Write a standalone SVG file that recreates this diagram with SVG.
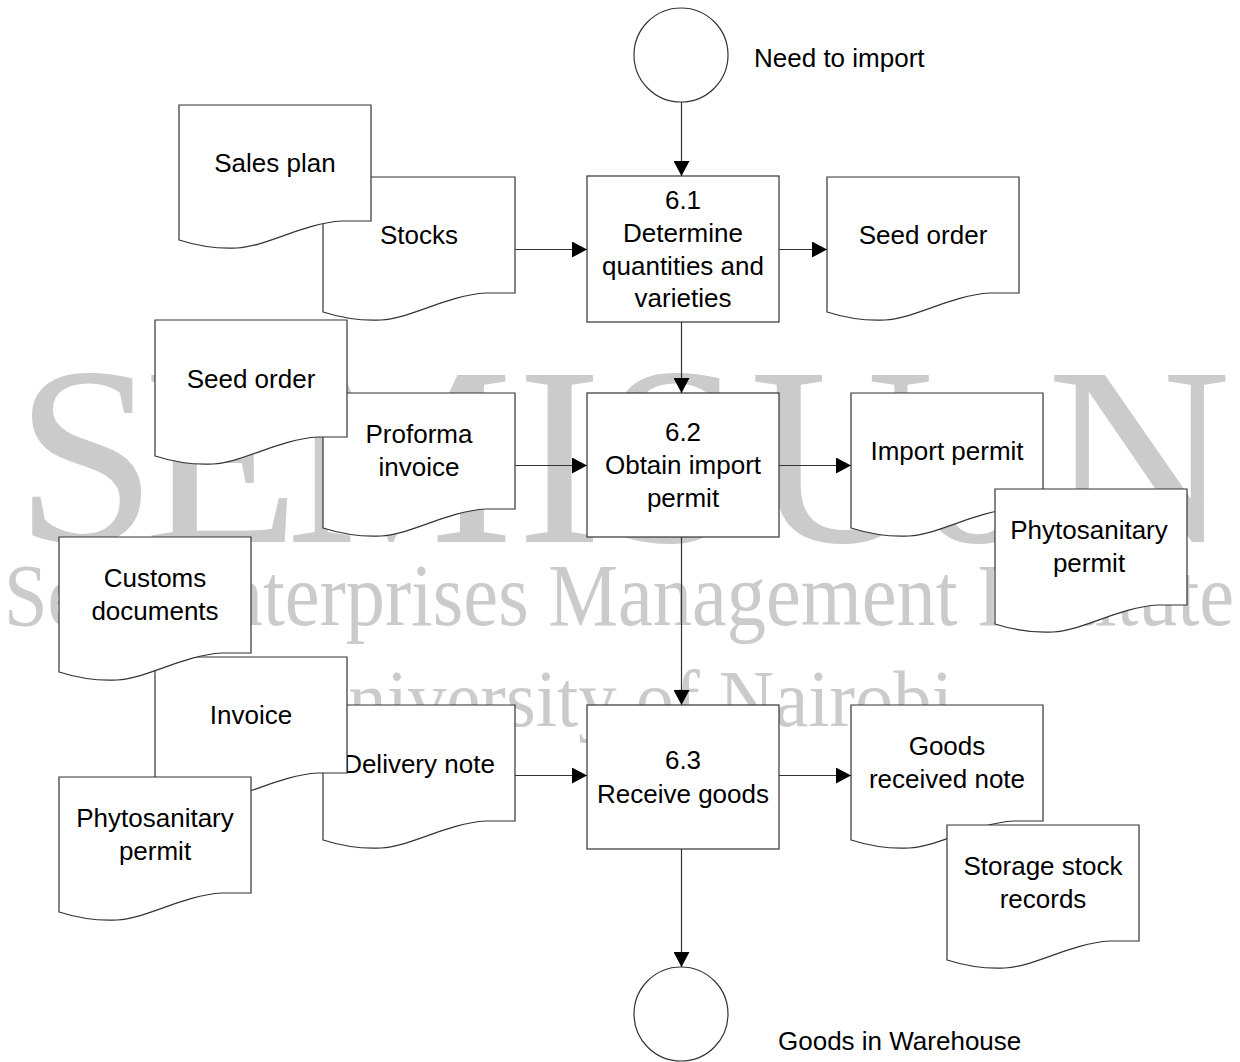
<svg xmlns="http://www.w3.org/2000/svg" width="1240" height="1062" viewBox="0 0 1240 1062">
<style>
.wm{font-family:"Liberation Serif","Times New Roman",serif;fill:#cbcbcb}
.doc,.box,.term{fill:#fff;stroke:#333;stroke-width:1.2}
.t{font-family:"Liberation Sans",Arial,sans-serif;font-size:26px;fill:#000;text-anchor:middle}
.lbl{font-family:"Liberation Sans",Arial,sans-serif;font-size:26px;fill:#000}
.c{fill:none;stroke:#333;stroke-width:1.2}
</style>
<defs>
<marker id="ah" markerUnits="userSpaceOnUse" markerWidth="16" markerHeight="16" refX="15" refY="8" orient="auto">
<path d="M0,0 L15,8 L0,16 Z" fill="#000"/>
</marker>
</defs>
<rect width="1240" height="1062" fill="#fff"/>
<g id="watermark">
<text class="wm" font-size="255" x="15 144 286 517 602 744 750 915 1047" y="542">SEMIS UoN</text>
<text class="wm" font-size="88" x="4" y="625" textLength="1230" lengthAdjust="spacingAndGlyphs">Seed Enterprises Management Institute</text>
<text class="wm" font-size="80" x="293" y="726" textLength="660" lengthAdjust="spacingAndGlyphs">University of Nairobi</text>
</g>
<g id="stocks"><path class="doc" d="M323,312 V177 H515 V293 H486 C448,295 409,319 381,320 C361,321 342,318 323,312 Z"/><text class="t" x="419" y="244">Stocks</text></g>
<g id="sales-plan"><path class="doc" d="M179,240 V105 H371 V221 H342 C304,223 265,247 237,248 C217,249 198,246 179,240 Z"/><text class="t" x="275" y="172">Sales plan</text></g>
<g id="seed-order-out"><path class="doc" d="M827,312 V177 H1019 V293 H990 C952,295 913,319 885,320 C865,321 846,318 827,312 Z"/><text class="t" x="923" y="244">Seed order</text></g>
<g id="proforma"><path class="doc" d="M323,528 V393 H515 V509 H486 C448,511 409,535 381,536 C361,537 342,534 323,528 Z"/><text class="t" x="419" y="443">Proforma</text><text class="t" x="419" y="476">invoice</text></g>
<g id="seed-order-in"><path class="doc" d="M155,456 V320 H347 V437 H318 C280,439 241,463 213,464 C193,465 174,462 155,456 Z"/><text class="t" x="251" y="388">Seed order</text></g>
<g id="import-permit"><path class="doc" d="M851,528 V393 H1043 V509 H1014 C976,511 937,535 909,536 C889,537 870,534 851,528 Z"/><text class="t" x="947" y="460">Import permit</text></g>
<g id="phyto-out"><path class="doc" d="M995,624 V489 H1187 V605 H1158 C1120,607 1081,631 1053,632 C1033,633 1014,630 995,624 Z"/><text class="t" x="1089" y="539">Phytosanitary</text><text class="t" x="1089" y="572">permit</text></g>
<g id="delivery-note"><path class="doc" d="M323,840 V705 H515 V821 H486 C448,823 409,847 381,848 C361,849 342,846 323,840 Z"/><text class="t" x="419" y="773">Delivery note</text></g>
<g id="invoice"><path class="doc" d="M155,792 V657 H347 V773 H318 C280,775 241,799 213,800 C193,801 174,798 155,792 Z"/><text class="t" x="251" y="724">Invoice</text></g>
<g id="customs"><path class="doc" d="M59,672 V537 H251 V653 H222 C184,655 145,679 117,680 C97,681 78,678 59,672 Z"/><text class="t" x="155" y="587">Customs</text><text class="t" x="155" y="620">documents</text></g>
<g id="phyto-in"><path class="doc" d="M59,912 V777 H251 V893 H222 C184,895 145,919 117,920 C97,921 78,918 59,912 Z"/><text class="t" x="155" y="827">Phytosanitary</text><text class="t" x="155" y="860">permit</text></g>
<g id="grn"><path class="doc" d="M851,840 V705 H1043 V821 H1014 C976,823 937,847 909,848 C889,849 870,846 851,840 Z"/><text class="t" x="947" y="755">Goods</text><text class="t" x="947" y="788">received note</text></g>
<g id="storage"><path class="doc" d="M947,960 V825 H1139 V941 H1110 C1072,943 1033,967 1005,968 C985,969 966,966 947,960 Z"/><text class="t" x="1043" y="875">Storage stock</text><text class="t" x="1043" y="908">records</text></g>
<g id="p61"><rect class="box" x="587" y="176" width="192" height="146"/><text class="t" x="683" y="209">6.1</text><text class="t" x="683" y="242">Determine</text><text class="t" x="683" y="275">quantities and</text><text class="t" x="683" y="307">varieties</text></g>
<g id="p62"><rect class="box" x="587" y="393" width="192" height="144"/><text class="t" x="683" y="441">6.2</text><text class="t" x="683" y="474">Obtain import</text><text class="t" x="683" y="507">permit</text></g>
<g id="p63"><rect class="box" x="587" y="705" width="192" height="144"/><text class="t" x="683" y="769">6.3</text><text class="t" x="683" y="803">Receive goods</text></g>
<g id="start"><circle class="term" cx="681" cy="55" r="47"/><text class="lbl" x="754" y="67">Need to import</text></g>
<g id="end"><circle class="term" cx="681" cy="1014" r="47"/><text class="lbl" x="778" y="1050">Goods in Warehouse</text></g>
<g id="connectors">
<path class="c" marker-end="url(#ah)" d="M681.5,102 V176"/>
<path class="c" marker-end="url(#ah)" d="M681.5,322 V393"/>
<path class="c" marker-end="url(#ah)" d="M681.5,537 V705"/>
<path class="c" marker-end="url(#ah)" d="M681.5,849 V967"/>
<path class="c" marker-end="url(#ah)" d="M515,249.5 H587"/>
<path class="c" marker-end="url(#ah)" d="M779,249.5 H827"/>
<path class="c" marker-end="url(#ah)" d="M515,465.5 H587"/>
<path class="c" marker-end="url(#ah)" d="M779,465.5 H851"/>
<path class="c" marker-end="url(#ah)" d="M515,775.5 H587"/>
<path class="c" marker-end="url(#ah)" d="M779,775.5 H851"/>
</g>
</svg>
